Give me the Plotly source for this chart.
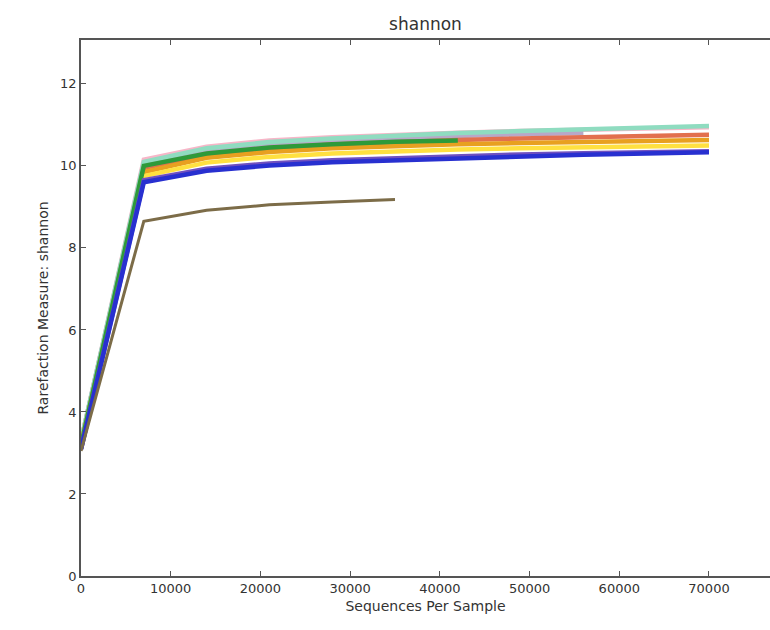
import plotly.graph_objects as go

depths = [10, 7000, 14000, 21000, 28000, 35000, 42000, 49000, 56000, 63000, 70000]

pink = [3.3, 10.15, 10.47, 10.62, 10.7, 10.76, 10.81, 10.85, 10.88, 10.91, 10.94]
teal = [3.3, 10.1, 10.43, 10.58, 10.67, 10.74, 10.8, 10.85, 10.89, 10.93, 10.97]
lavender = [3.3, 10.05, 10.38, 10.53, 10.62, 10.68, 10.73, 10.77, 10.8]
red = [3.2, 9.95, 10.28, 10.43, 10.52, 10.58, 10.63, 10.67, 10.7, 10.73, 10.76]
green = [3.2, 10.0, 10.3, 10.45, 10.53, 10.59, 10.62]
orange = [3.2, 9.85, 10.2, 10.34, 10.43, 10.49, 10.53, 10.56, 10.59, 10.61, 10.63]
yellow = [3.2, 9.75, 10.08, 10.22, 10.3, 10.36, 10.4, 10.43, 10.46, 10.48, 10.5]
purple = [3.1, 9.65, 9.93, 10.06, 10.14, 10.19, 10.24, 10.28, 10.31, 10.34, 10.36]
blue = [3.1, 9.6, 9.88, 10.01, 10.09, 10.14, 10.19, 10.23, 10.27, 10.3, 10.33]
olive = [3.05, 8.65, 8.92, 9.05, 9.12, 9.18]

series = [
    ("pink", pink, "#f7b6c8", 4.5),
    ("lavender", lavender, "#b8a8c8", 4.5),
    ("teal", teal, "#8fdcc0", 4.5),
    ("red", red, "#e2704e", 4.5),
    ("orange", orange, "#e8a020", 4.5),
    ("yellow", yellow, "#ffe040", 4.5),
    ("green", green, "#2e9a3a", 4.5),
    ("purple", purple, "#7050c0", 4.5),
    ("blue", blue, "#2830d0", 4.5),
    ("olive", olive, "#7c6c48", 3),
]

fig = go.Figure()
for name, ys, col, w in series:
    fig.add_trace(go.Scatter(x=depths[:len(ys)], y=ys, mode="lines", name=name,
                             line=dict(color=col, width=w)))

axcol = "#555555"
fig.update_layout(
    width=770, height=630,
    margin=dict(l=81, r=0, t=40, b=54),
    paper_bgcolor="white", plot_bgcolor="white",
    showlegend=False,
    font=dict(family="DejaVu Sans", size=13, color="#333333"),
    title=dict(text="shannon", x=0.5, xanchor="center", xref="paper",
               y=0.962, yanchor="middle", font=dict(size=17, color="#333333")),
    xaxis=dict(range=[0, 76800], tickvals=[0, 10000, 20000, 30000, 40000, 50000, 60000, 70000],
               ticktext=["0", "10000", "20000", "30000", "40000", "50000", "60000", "70000"],
               showgrid=False, zeroline=False, showline=True, linecolor=axcol, linewidth=1.5,
               mirror="ticks", ticks="inside", ticklen=5, tickcolor=axcol,
               title=dict(text="Sequences Per Sample", font=dict(size=14), standoff=6)),
    yaxis=dict(range=[0, 13.07], tickvals=[0, 2, 4, 6, 8, 10, 12],
               showgrid=False, zeroline=False, showline=True, linecolor=axcol, linewidth=1.5,
               ticks="inside", ticklen=5, tickcolor=axcol,
               title=dict(text="Rarefaction Measure: shannon", font=dict(size=14), standoff=8)),
)

fig.write_html("out.html")
